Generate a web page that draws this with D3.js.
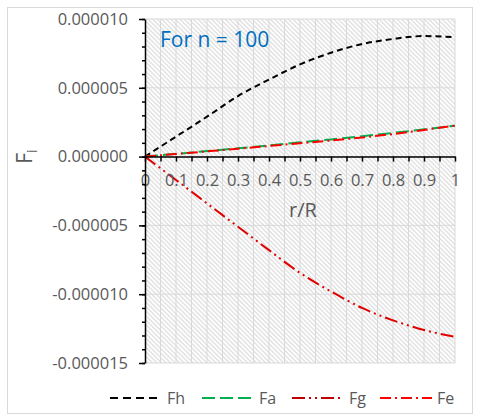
<!DOCTYPE html>
<html>
<head>
<meta charset="utf-8">
<script src="https://cdn.jsdelivr.net/npm/d3@7"></script>
<style>
  body { margin: 0; background: white; }
  text { font-family: "Open Sans", sans-serif; fill: #595959; }
</style>
</head>
<body>
<script>
// values (r/R from 0 to 1)
const rR = [0, 0.1, 0.2, 0.3, 0.4, 0.5, 0.6, 0.7, 0.8, 0.9, 1];
const Fh = [0, 1.45e-6, 2.9e-6, 4.4e-6, 5.6e-6, 6.7e-6, 7.55e-6, 8.18e-6, 8.55e-6, 8.76e-6, 8.67e-6];
const Fa = [0, 0.2e-6, 0.4e-6, 0.6e-6, 0.82e-6, 1.04e-6, 1.25e-6, 1.48e-6, 1.72e-6, 1.98e-6, 2.25e-6];
const Fg = [0, -1.7e-6, -3.4e-6, -5.1e-6, -6.8e-6, -8.45e-6, -9.8e-6, -11.0e-6, -11.9e-6, -12.6e-6, -13.1e-6];
const Fe = [0, 0.19e-6, 0.38e-6, 0.57e-6, 0.77e-6, 0.97e-6, 1.17e-6, 1.39e-6, 1.64e-6, 1.94e-6, 2.25e-6];

const seriesNames = ["Fh", "Fa", "Fg", "Fe"];
const xTicks = [0, 0.1, 0.2, 0.3, 0.4, 0.5, 0.6, 0.7, 0.8, 0.9, 1];
const xTickLabels = ["0", "0.1", "0.2", "0.3", "0.4", "0.5", "0.6", "0.7", "0.8", "0.9", "1"];
const yTicks = [-15e-6, -10e-6, -5e-6, 0, 5e-6, 10e-6];
const yTickLabels = ["-0.000015", "-0.000010", "-0.000005", "0.000000", "0.000005", "0.000010"];

let width = 480;
let height = 420;

let margin = { top: 19, bottom: 57, left: 145, right: 25 };

const svg = d3.select("body")
    .append("svg")
    .attr("width", width)
    .attr("height", height);

// outer chart border
svg.append("rect")
    .attr("x", 7.5).attr("y", 7.5)
    .attr("width", 465).attr("height", 406)
    .attr("fill", "white")
    .attr("stroke", "#d9d9d9");

let xScale = d3.scaleLinear()
    .domain([0, 1])
    .range([margin.left, width - margin.right]);

let yScale = d3.scaleLinear()
    .domain([-15e-6, 10e-6])
    .range([height - margin.bottom, margin.top]);

// hatched plot background
const defs = svg.append("defs");
const pat = defs.append("pattern")
    .attr("id", "hatch")
    .attr("patternUnits", "userSpaceOnUse")
    .attr("width", 3.2).attr("height", 3.2)
    .attr("patternTransform", "rotate(45)");
pat.append("line")
    .attr("x1", 0).attr("y1", 1.6).attr("x2", 3.2).attr("y2", 1.6)
    .attr("stroke", "#cfcfcf")
    .attr("stroke-width", 0.9);

svg.append("rect")
    .attr("x", xScale(0)).attr("y", yScale(10e-6))
    .attr("width", xScale(1) - xScale(0))
    .attr("height", yScale(-15e-6) - yScale(10e-6))
    .attr("fill", "url(#hatch)");

// gridlines
svg.append("g")
    .selectAll("line")
    .data(d3.range(1, 21).map(i => i * 0.05))
    .enter()
    .append("line")
    .attr("x1", d => xScale(d)).attr("x2", d => xScale(d))
    .attr("y1", yScale(10e-6)).attr("y2", yScale(-15e-6))
    .attr("stroke", "#d9d9d9");

svg.append("g")
    .selectAll("line")
    .data(yTicks)
    .enter()
    .append("line")
    .attr("x1", xScale(0)).attr("x2", xScale(1))
    .attr("y1", d => yScale(d)).attr("y2", d => yScale(d))
    .attr("stroke", "#d9d9d9");

// curves
const styles = {
    Fh: { color: "#000000", dash: "6,4" },
    Fa: { color: "#00B050", dash: "13,5" },
    Fg: { color: "#C00000", dash: "13,4,2,4,2,4" },
    Fe: { color: "#FF0000", dash: "11,4,2,4" }
};
const values = { Fh: Fh, Fa: Fa, Fg: Fg, Fe: Fe };

const line = d3.line()
    .x(d => xScale(d[0]))
    .y(d => yScale(d[1]))
    .curve(d3.curveMonotoneX);

seriesNames.forEach(name => {
    svg.append("path")
        .datum(rR.map((r, i) => [r, values[name][i]]))
        .attr("d", line)
        .attr("fill", "none")
        .attr("stroke", name === "Fg" ? "#E00000" : styles[name].color)
        .attr("stroke-width", 2)
        .attr("stroke-dasharray", styles[name].dash);
});

// x axis
svg.append("g")
    .attr("transform", `translate(0,${yScale(0)})`)
    .call(d3.axisBottom(xScale).tickValues(d3.range(0, 21).map(i => i * 0.05)).tickSize(5).tickSizeOuter(0).tickFormat(""))
    .call(g => g.selectAll("line, path").attr("stroke", "#000").attr("stroke-width", 1.5));

svg.append("g")
    .attr("transform", `translate(0,${yScale(0)})`)
    .call(d3.axisBottom(xScale).tickValues(xTicks).tickSize(0).tickPadding(18)
        .tickFormat((d, i) => xTickLabels[i]))
    .call(g => g.select(".domain").remove())
    .call(g => g.selectAll("text").style("font-size", "16.5px").attr("fill", "#595959"));

// y axis
svg.append("g")
    .attr("transform", `translate(${xScale(0)},0)`)
    .call(d3.axisLeft(yScale).tickValues(d3.range(-15, 11).map(i => i * 1e-6)).tickSize(3).tickSizeOuter(0).tickFormat(""))
    .call(g => g.selectAll("line, path").attr("stroke", "#000").attr("stroke-width", 1.5));

svg.append("g")
    .attr("transform", `translate(${xScale(0)},0)`)
    .call(d3.axisLeft(yScale).tickValues(yTicks).tickSize(6).tickPadding(11)
        .tickFormat((d, i) => yTickLabels[i]))
    .call(g => g.select(".domain").remove())
    .call(g => g.selectAll("line").attr("stroke", "#000").attr("stroke-width", 1.5))
    .call(g => g.selectAll("text").style("font-size", "16.5px").attr("fill", "#595959"));

// axis titles
svg.append("text")
    .attr("x", 303)
    .attr("y", 217)
    .attr("text-anchor", "middle")
    .style("font-size", "20px")
    .text("r/R");

const yTitle = svg.append("text")
    .attr("transform", `translate(32,${yScale(0)}) rotate(-90)`)
    .attr("text-anchor", "middle")
    .style("font-size", "21px");
yTitle.append("tspan").text("F");
yTitle.append("tspan").attr("dy", 5).style("font-size", "14px").text("i");

// annotation
svg.append("text")
    .attr("x", 160)
    .attr("y", 47)
    .style("font-size", "21px")
    .style("fill", "#0070C0")
    .text("For n = 100");

// legend
const legendX = [110, 202, 292, 380];
seriesNames.forEach((name, i) => {
    svg.append("line")
        .attr("x1", legendX[i]).attr("x2", legendX[i] + 52)
        .attr("y1", 398).attr("y2", 398)
        .attr("stroke", styles[name].color)
        .attr("stroke-width", 2)
        .attr("stroke-dasharray", name === "Fh" ? "8,5" : styles[name].dash);
    svg.append("text")
        .attr("x", legendX[i] + 57)
        .attr("y", 404)
        .style("font-size", "16px")
        .text(name);
});
</script>
</body>
</html>
